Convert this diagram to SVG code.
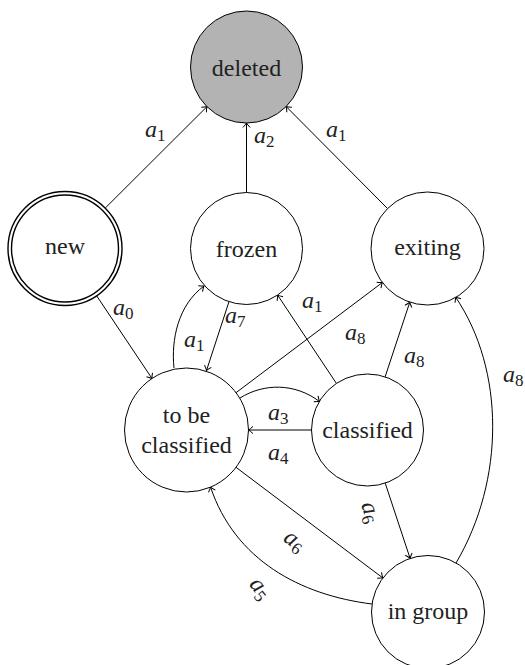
<svg xmlns="http://www.w3.org/2000/svg" width="525" height="665" viewBox="0 0 525 665">
<style>
.st{fill:#fff;stroke:#000;stroke-width:1}
.del{fill:#b3b3b3;stroke:#000;stroke-width:1}
.dbl{fill:none;stroke:#000;stroke-width:1.4}
.nt{font-size:24px;fill:#222;text-anchor:middle}
.e{fill:none;stroke:#000;stroke-width:1;marker-end:url(#arr)}
.lb{font-size:24px;font-style:italic;fill:#222}
.sb{font-size:17px;font-style:normal}
</style>
<defs>
<marker id="arr" markerUnits="userSpaceOnUse" markerWidth="10" markerHeight="12" viewBox="-8 -6 10 12" refX="0" refY="0" orient="auto">
<path d="M-4.5,-3.6 Q-1.5,-0.8 0,0 Q-1.5,0.8 -4.5,3.6" fill="none" stroke="#000" stroke-width="1"/>
</marker>
</defs>
<g id="edges">
<path class="e" d="M105.3,208 L207,106.6"/>
<path class="e" d="M246.5,192.5 L246.5,123"/>
<path class="e" d="M387.5,208.5 L286.2,106.6"/>
<path class="e" d="M96.7,295.9 L152,378.5"/>
<path class="e" d="M229,301.6 L206.5,370.5"/>
<path class="e" d="M336.4,383.4 L277.6,295.1"/>
<path class="e" d="M236,392.7 L382.4,282.5"/>
<path class="e" d="M385.1,376.9 L409.8,302.1"/>
<path class="e" d="M311.5,430 L248.5,430"/>
<path class="e" d="M385.2,483.1 L410.1,558.4"/>
<path class="e" d="M236,467.3 L382.9,578"/>
<path class="e" d="M174,368 C171,340 178,305 204,286"/>
<path class="e" d="M240,398 C264,383 295,383 319.5,401.5"/>
<path class="e" d="M372,604 C300,595 235,560 210.5,487"/>
<path class="e" d="M456,563 C505,480 505,370 455.5,297"/>
</g>
<g id="labels" font-family="Liberation Serif, DejaVu Serif, serif">
<text class="lb" x="145" y="137">a<tspan class="sb" dy="4">1</tspan></text>
<text class="lb" x="254" y="143">a<tspan class="sb" dy="4">2</tspan></text>
<text class="lb" x="326" y="137">a<tspan class="sb" dy="4">1</tspan></text>
<text class="lb" x="113" y="315">a<tspan class="sb" dy="4">0</tspan></text>
<text class="lb" x="225" y="323">a<tspan class="sb" dy="4">7</tspan></text>
<text class="lb" x="302" y="308">a<tspan class="sb" dy="4">1</tspan></text>
<text class="lb" x="184" y="347">a<tspan class="sb" dy="4">1</tspan></text>
<text class="lb" x="345" y="340">a<tspan class="sb" dy="4">8</tspan></text>
<text class="lb" x="404" y="363">a<tspan class="sb" dy="4">8</tspan></text>
<text class="lb" x="503" y="382">a<tspan class="sb" dy="4">8</tspan></text>
<text class="lb" x="268" y="420">a<tspan class="sb" dy="4">3</tspan></text>
<text class="lb" x="268" y="460">a<tspan class="sb" dy="4">4</tspan></text>
<text class="lb" transform="translate(368,513) rotate(72)" x="0" y="4" text-anchor="middle">a<tspan class="sb" dy="4">6</tspan></text>
<text class="lb" transform="translate(293,543) rotate(36)" x="0" y="4" text-anchor="middle">a<tspan class="sb" dy="4">6</tspan></text>
<text class="lb" transform="translate(258,590) rotate(51)" x="0" y="4" text-anchor="middle">a<tspan class="sb" dy="4">5</tspan></text>
</g>
<g id="nodes" font-family="Liberation Serif, DejaVu Serif, serif">
<g id="deleted"><circle class="del" cx="246.5" cy="67" r="56"/><text class="nt" x="246.5" y="76">deleted</text></g>
<g id="new"><circle class="dbl" cx="65" cy="248.5" r="57"/><circle class="dbl" cx="65" cy="248.5" r="53.5"/><text class="nt" x="65" y="254">new</text></g>
<g id="frozen"><circle class="st" cx="246.5" cy="248.5" r="56"/><text class="nt" x="246.5" y="256.5">frozen</text></g>
<g id="exiting"><circle class="st" cx="427.5" cy="248.5" r="56.5"/><text class="nt" x="427.5" y="255">exiting</text></g>
<g id="tobeclassified"><circle class="st" cx="186.5" cy="430" r="62"/><text class="nt" x="186.5" y="423">to be</text><text class="nt" x="186.5" y="453">classified</text></g>
<g id="classified"><circle class="st" cx="367.5" cy="430" r="56"/><text class="nt" x="367.5" y="438">classified</text></g>
<g id="ingroup"><circle class="st" cx="428" cy="612" r="56.5"/><text class="nt" x="428" y="619">in group</text></g>
</g>
</svg>
